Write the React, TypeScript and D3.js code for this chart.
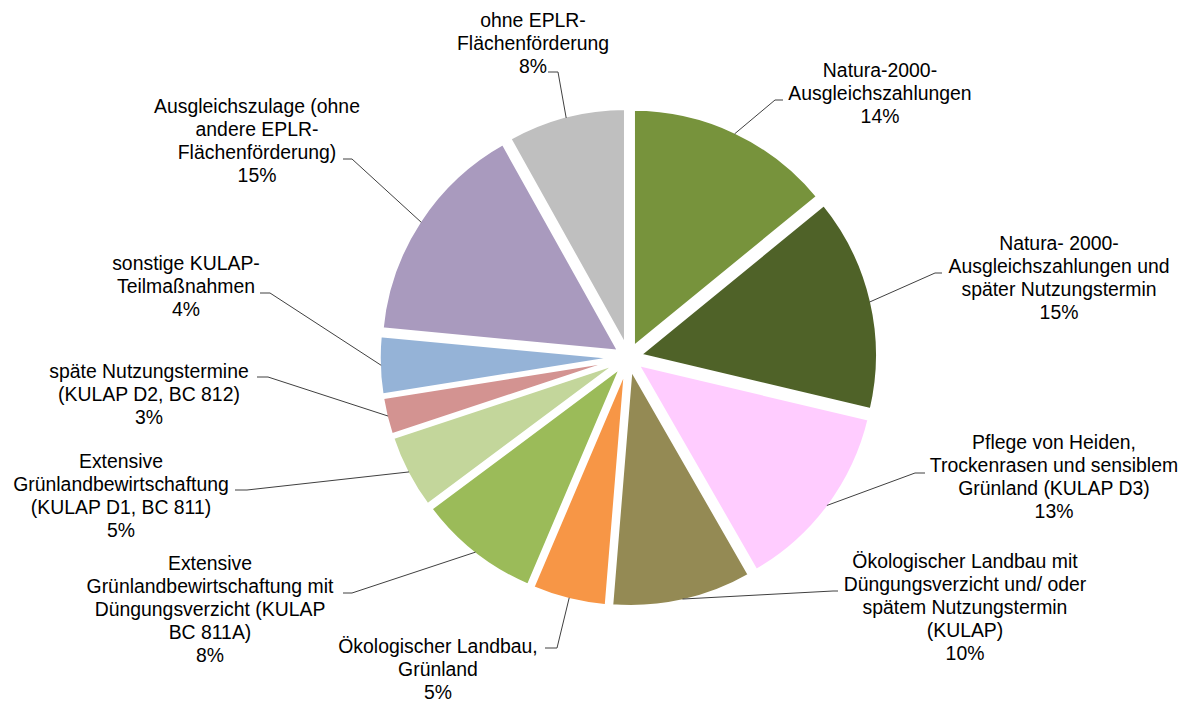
import * as d3 from 'd3';

// slice names, one entry per text line of the label
const categories: string[][] = [
  ['Natura-2000-', 'Ausgleichszahlungen'],
  ['Natura- 2000-', 'Ausgleichszahlungen und', 'später Nutzungstermin'],
  ['Pflege von Heiden,', 'Trockenrasen und sensiblem', 'Grünland (KULAP D3)'],
  ['Ökologischer Landbau mit', 'Düngungsverzicht und/ oder', 'spätem Nutzungstermin', '(KULAP)'],
  ['Ökologischer Landbau,', 'Grünland'],
  ['Extensive', 'Grünlandbewirtschaftung mit', 'Düngungsverzicht (KULAP', 'BC 811A)'],
  ['Extensive', 'Grünlandbewirtschaftung', '(KULAP D1, BC 811)'],
  ['späte Nutzungstermine', '(KULAP D2, BC 812)'],
  ['sonstige KULAP-', 'Teilmaßnahmen'],
  ['Ausgleichszulage (ohne', 'andere EPLR-', 'Flächenförderung)'],
  ['ohne EPLR-', 'Flächenförderung'],
];

// shares in percent
const values = [14.1, 14.6, 13.0, 9.6, 5.1, 8.4, 5.1, 2.6, 4.0, 15.4, 8.1];

const colors = [
  '#77933C', '#4F6228', '#FFCCFF', '#948A54', '#F79646', '#9BBB59',
  '#C3D69B', '#D39391', '#95B3D7', '#A99ABE', '#BFBFBF',
];

// label block centre x, first baseline y, leader elbow (ex, ey) and leader end x
const labelLayout = [
  { x: 880, y: 77, ex: 775, ey: 100, hx: 783 },
  { x: 1059, y: 250, ex: 935, ey: 273, hx: 942 },
  { x: 1054, y: 449, ex: 915, ey: 473, hx: 925 },
  { x: 965, y: 568, ex: 833, ey: 591, hx: 838 },
  { x: 438, y: 653, ex: 557, ey: 648, hx: 545 },
  { x: 210, y: 570, ex: 352, ey: 593, hx: 343 },
  { x: 121, y: 468, ex: 247, ey: 490, hx: 235 },
  { x: 149, y: 378, ex: 268, ey: 377, hx: 257 },
  { x: 186, y: 270, ex: 270, ey: 293, hx: 260 },
  { x: 257, y: 113, ex: 352, ey: 159, hx: 343 },
  { x: 533, y: 27, ex: 558, ey: 72, hx: 548 },
];

const W = 1192;
const H = 702;
const cx = 628.5;
const cy = 357.5;
const radius = 238.5;
const explode = 11;
const lineHeight = 23;

export default function App() {
  const pie = d3.pie<number>().sort(null).startAngle(0).endAngle(2 * Math.PI);
  const arcs = pie(values);
  const arc = d3.arc<d3.PieArcDatum<number>>().innerRadius(0).outerRadius(radius);

  return (
    <svg
      width={W}
      height={H}
      style={{ position: 'absolute', left: 0, top: 0, background: '#fff' }}
      fontFamily="'Liberation Sans', Arial, sans-serif"
    >
      <rect width={W} height={H} fill="#fff" />
      <g transform={`translate(${cx},${cy})`}>
        {arcs.map((a, i) => {
          const mid = (a.startAngle + a.endAngle) / 2;
          const dx = explode * Math.sin(mid);
          const dy = -explode * Math.cos(mid);
          return (
            <path
              key={i}
              d={arc(a) || ''}
              transform={`translate(${dx},${dy})`}
              fill={colors[i]}
              stroke="#fff"
              strokeWidth={3.5}
              strokeLinejoin="miter"
            />
          );
        })}
      </g>
      {arcs.map((a, i) => {
        const mid = (a.startAngle + a.endAngle) / 2;
        const r = radius - 2;
        const sx = cx + (explode + r) * Math.sin(mid);
        const sy = cy - (explode + r) * Math.cos(mid);
        const l = labelLayout[i];
        return (
          <path
            key={i}
            d={`M${sx},${sy}L${l.ex},${l.ey}L${l.hx},${l.ey}`}
            fill="none"
            stroke="#404040"
            strokeWidth={1}
          />
        );
      })}
      {categories.map((lines, i) => {
        const l = labelLayout[i];
        const all = [...lines, `${Math.round(values[i])}%`];
        return (
          <text key={i} x={l.x} y={l.y} textAnchor="middle" fontSize={19.4} fill="#000">
            {all.map((t, j) => (
              <tspan key={j} x={l.x} dy={j === 0 ? 0 : lineHeight}>
                {t}
              </tspan>
            ))}
          </text>
        );
      })}
    </svg>
  );
}
